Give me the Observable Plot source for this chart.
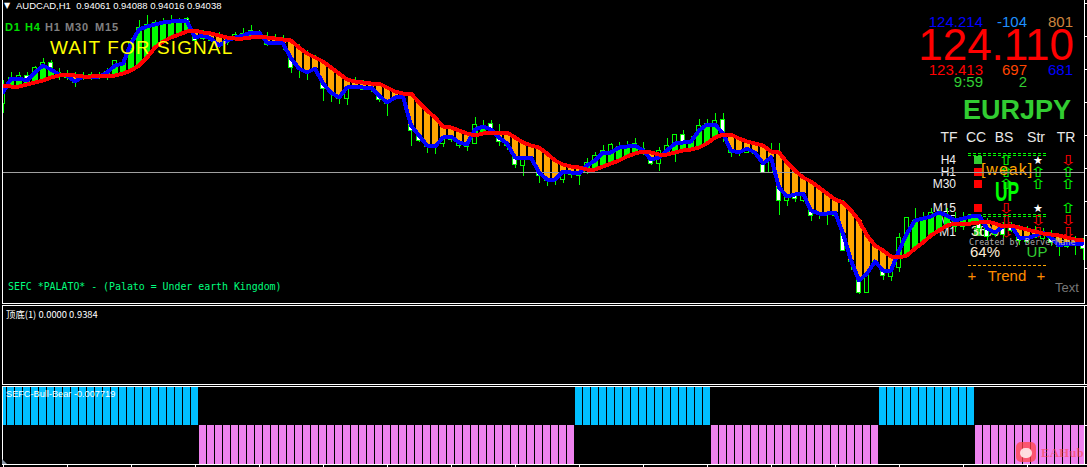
<!DOCTYPE html>
<html><head><meta charset="utf-8">
<script src="https://cdn.jsdelivr.net/npm/d3@7"></script>
<script src="https://cdn.jsdelivr.net/npm/@observablehq/plot@0.6"></script>
<style>
html,body{margin:0;padding:0;background:#000;overflow:hidden}
#chart{position:relative;width:1087px;height:467px;background:#000;overflow:hidden}
#chart>div.p{position:absolute;left:0;width:1087px;z-index:2}
#chart svg{display:block;background:transparent}
.t{position:absolute;white-space:pre;line-height:1;font-family:"Liberation Sans",Arial,sans-serif;z-index:3}
.u{z-index:1}
.c{transform:translate(-50%,-50%)}
.l{transform:translateY(-50%)}
.r{transform:translate(-100%,-50%)}
</style></head><body><div id="chart"></div>
<script>
// prices in 1/10000 units
const red=[9491,9490,9490,9492,9494,9496,9499,9501,9502,9501,9500,9500,9501,9500,9501,9503,9506,9511,9519,9529,9535,9539,9542,9545,9546,9544,9543,9541,9539,9538,9538,9539,9540,9539,9538,9537,9536,9529,9523,9519,9515,9509,9503,9497,9495,9494,9493,9493,9489,9485,9483,9483,9474,9466,9459,9450,9449,9446,9443,9441,9443,9444,9444,9444,9439,9434,9431,9429,9423,9416,9412,9410,9409,9407,9407,9410,9413,9416,9420,9423,9425,9424,9422,9422,9424,9426,9427,9429,9433,9439,9442,9442,9438,9435,9433,9431,9425,9424,9414,9406,9399,9395,9389,9383,9377,9374,9366,9356,9341,9331,9326,9320,9319,9321,9328,9334,9341,9346,9351,9353,9353,9353,9354,9355,9353,9350,9351,9349,9347,9345,9343,9342,9341,9339,9337,9336];
const blue=[9484,9498,9498,9496,9504,9511,9507,9502,9501,9495,9500,9500,9500,9504,9511,9513,9533,9547,9550,9552,9554,9555,9556,9555,9539,9541,9538,9531,9536,9539,9541,9544,9544,9534,9534,9533,9518,9508,9504,9508,9493,9484,9479,9489,9490,9489,9489,9481,9474,9479,9480,9451,9441,9431,9430,9439,9440,9434,9432,9447,9450,9447,9439,9433,9419,9419,9419,9404,9397,9397,9405,9404,9403,9411,9416,9424,9424,9429,9430,9431,9426,9417,9419,9426,9433,9434,9435,9446,9452,9452,9443,9426,9424,9428,9424,9413,9419,9389,9380,9382,9383,9366,9363,9363,9364,9343,9316,9296,9303,9315,9306,9306,9326,9343,9356,9358,9360,9364,9361,9356,9358,9360,9361,9348,9344,9350,9351,9339,9338,9341,9344,9339,9331,9333,9333,9333];
const high=[9496,9504,9504,9504,9510,9518,9516,9508,9506,9504,9504,9504,9504,9508,9516,9519,9538,9556,9561,9556,9558,9561,9558,9559,9546,9546,9543,9544,9540,9544,9548,9551,9546,9544,9542,9541,9536,9532,9526,9521,9514,9508,9504,9498,9499,9496,9494,9492,9488,9486,9484,9481,9474,9466,9459,9451,9448,9446,9443,9459,9456,9456,9452,9442,9439,9434,9430,9428,9422,9416,9411,9408,9408,9418,9424,9431,9433,9434,9435,9438,9434,9424,9429,9438,9442,9446,9440,9457,9457,9463,9463,9440,9436,9433,9434,9428,9433,9433,9414,9406,9401,9386,9384,9381,9376,9376,9366,9358,9341,9331,9326,9321,9343,9359,9368,9364,9368,9366,9368,9364,9364,9362,9362,9358,9354,9354,9354,9351,9350,9350,9348,9346,9340,9338,9340,9338];
const low=[9463,9491,9488,9490,9496,9496,9501,9496,9496,9489,9496,9496,9497,9496,9499,9501,9506,9526,9536,9538,9538,9543,9546,9548,9534,9536,9534,9528,9531,9536,9536,9538,9538,9530,9532,9526,9503,9498,9496,9504,9475,9474,9472,9471,9487,9486,9484,9474,9460,9476,9476,9430,9434,9423,9422,9429,9434,9428,9425,9433,9442,9441,9430,9426,9408,9400,9416,9393,9390,9391,9393,9398,9391,9402,9406,9411,9416,9421,9424,9426,9421,9411,9405,9421,9414,9426,9428,9431,9441,9443,9434,9419,9420,9423,9421,9403,9404,9361,9370,9374,9374,9355,9357,9351,9359,9326,9306,9282,9283,9311,9296,9295,9304,9326,9338,9341,9344,9348,9348,9344,9346,9351,9344,9336,9339,9338,9344,9331,9333,9338,9336,9330,9320,9328,9321,9316];
const open=[9473,9494,9496,9501,9496,9504,9514,9504,9499,9500,9498,9499,9502,9500,9501,9506,9511,9528,9538,9541,9540,9544,9547,9558,9543,9543,9541,9539,9534,9538,9538,9541,9542,9540,9538,9538,9534,9528,9521,9518,9512,9506,9502,9478,9488,9491,9492,9490,9486,9484,9482,9479,9472,9464,9456,9433,9446,9431,9441,9433,9444,9453,9439,9440,9436,9411,9428,9426,9420,9414,9397,9402,9406,9404,9409,9413,9418,9422,9424,9426,9428,9419,9413,9421,9426,9442,9428,9431,9443,9443,9457,9424,9434,9424,9430,9412,9404,9389,9376,9404,9376,9367,9381,9379,9364,9373,9361,9296,9284,9328,9305,9300,9309,9329,9338,9341,9344,9348,9351,9358,9350,9354,9360,9348,9350,9348,9352,9346,9344,9339,9338,9342,9338,9336,9331,9336];
const close=[9488,9499,9501,9498,9509,9514,9509,9500,9503,9494,9501,9502,9499,9505,9516,9514,9534,9549,9552,9554,9553,9556,9556,9554,9536,9538,9536,9531,9538,9542,9543,9546,9545,9532,9533,9532,9509,9508,9504,9508,9488,9484,9478,9489,9496,9487,9488,9477,9473,9478,9479,9446,9436,9430,9429,9439,9437,9441,9430,9452,9448,9446,9435,9431,9412,9418,9417,9401,9396,9396,9403,9406,9401,9414,9421,9426,9432,9430,9431,9433,9426,9413,9426,9431,9442,9434,9434,9451,9453,9456,9443,9440,9423,9433,9423,9404,9424,9376,9381,9378,9381,9361,9362,9362,9361,9326,9315,9284,9303,9314,9301,9308,9339,9359,9356,9358,9364,9364,9361,9350,9358,9360,9348,9340,9342,9342,9346,9336,9335,9344,9345,9334,9330,9330,9338,9328];
const priceTicks=[9573,9540,9507,9474,9441,9408,9375,9341,9308];
const bidPrice=9404;
const bullBearRuns=[[1,25],[-1,47],[1,17],[-1,21],[1,12],[-1,14]];
const bullBear=bullBearRuns.flatMap(([v,n])=>d3.range(n).map(()=>v));
const bars=d3.range(high.length);
const barTicks=d3.range(0,136,8);

const P=v=>v/10000;
const xs={type:"linear",domain:[-0.0625,135.1875],range:[2,1084],axis:null};
const crisp={shapeRendering:"crispEdges"};
const common={width:1087,marginLeft:2,marginRight:3,marginTop:0,style:{background:"transparent",overflow:"visible"}};
const up=bars.filter(i=>blue[i]>=red[i]), dn=bars.filter(i=>blue[i]<red[i]);

const main=Plot.plot({...common,height:304,marginBottom:1,x:xs,
 y:{domain:[P(9273),P(9576)],range:[303,0],axis:null},
 marks:[
  Plot.ruleX(bars,{x:i=>i,y1:i=>P(low[i]),y2:i=>P(high[i]),stroke:"#00ff00",strokeWidth:1,clip:true,...crisp}),
  Plot.rect(bars,{x1:i=>i-0.29,x2:i=>i+0.29,y1:i=>P(open[i]),y2:i=>P(close[i]),fill:i=>close[i]>=open[i]?"#000":"#fff",stroke:"#00ff00",strokeWidth:1,clip:true,...crisp}),
  Plot.ruleX(up,{x:i=>i,y1:i=>P(blue[i]),y2:i=>P(red[i]),stroke:"#00ff00",strokeWidth:5.5,clip:true,...crisp}),
  Plot.ruleX(dn,{x:i=>i,y1:i=>P(blue[i]),y2:i=>P(red[i]),stroke:"#ffa500",strokeWidth:5.5,clip:true,...crisp}),
  Plot.ruleY([P(bidPrice)],{stroke:"#a0a0a0",strokeWidth:1,...crisp}),
  Plot.line(bars,{x:i=>i,y:i=>P(blue[i]),stroke:"#0000ff",strokeWidth:4,clip:true,...crisp}),
  Plot.line(bars,{x:i=>i,y:i=>P(red[i]),stroke:"#ff0000",strokeWidth:4,clip:true,...crisp}),
  Plot.frame({anchor:"left",stroke:"#fff",...crisp}),
  Plot.frame({anchor:"right",stroke:"#fff",...crisp}),
  Plot.frame({anchor:"bottom",stroke:"#fff",...crisp}),
  Plot.axisY(priceTicks.map(P),{anchor:"right",tickSize:3,tickPadding:0,tickFormat:()=>"",label:null,stroke:"#fff",...crisp})
 ]});
const mid=Plot.plot({...common,height:80,marginBottom:1,x:xs,
 y:{domain:[0,1],axis:null},
 marks:[
  Plot.frame({stroke:"#fff",...crisp}),
  Plot.axisY([0,1],{anchor:"right",tickSize:3,tickFormat:()=>"",label:null,stroke:"#fff",...crisp})
 ]});
const bot=Plot.plot({...common,height:81,marginBottom:3,x:xs,
 y:{domain:[-1,1],axis:null},
 marks:[
  Plot.rect(bars,{x1:i=>i-0.4375,x2:i=>i+0.4375,y1:0,y2:i=>bullBear[i],fill:i=>bullBear[i]>0?"#00bfff":"#ee82ee",clip:true,...crisp}),
  Plot.frame({stroke:"#fff",...crisp}),
  Plot.axisX(barTicks,{anchor:"bottom",tickSize:3,tickFormat:()=>"",label:null,stroke:"#fff",...crisp}),
  Plot.axisY([-1,0,1],{anchor:"right",tickSize:3,tickFormat:()=>"",label:null,stroke:"#fff",...crisp})
 ]});
const chart=document.getElementById("chart");
[[main,0],[mid,305],[bot,386]].forEach(([el,top])=>{const d=document.createElement("div");d.className="p";d.style.top=top+"px";d.appendChild(el);chart.appendChild(d);});

// overlay labels; o.u puts a label underneath the chart marks
function T(txt,x,y,o={}){const e=document.createElement("div");e.className="t "+(o.a||"l")+(o.u?" u":"");e.textContent=txt;
 e.style.left=x+"px";e.style.top=y+"px";e.style.fontSize=(o.s||11)+"px";e.style.color=o.c||"#fff";
 if(o.b)e.style.fontWeight="bold";if(o.f)e.style.fontFamily=o.f;if(o.ls)e.style.letterSpacing=o.ls+"px";
 if(o.sx)e.style.transform=`translate(-50%,-50%) scaleX(${o.sx})`;
 chart.appendChild(e);return e;}
const mono='"DejaVu Sans Mono",monospace', dj='"DejaVu Sans",sans-serif';
T("▼",4,6,{s:8,f:dj});
T("AUDCAD,H1  0.94061 0.94088 0.94016 0.94038",16,6,{s:9.5});
[["D1",5,"#00e000"],["H4",25,"#00e000"],["H1",45,"#808080"],["M30",65,"#808080"],["M15",95,"#808080"]].forEach(([s,x,c])=>T(s,x,27,{s:11,b:1,c,ls:.8}));
T("WAIT FOR SIGNAL",50,47,{s:19,c:"#ffff00",ls:1.1});
T("SEFC *PALATO* - (Palato = Under earth Kingdom)",8,287,{s:9.9,c:"#00ff7f",f:mono});
T("顶底(1) 0.0000 0.9384",6,315,{s:9.4,f:'"Noto Sans CJK SC","Liberation Sans",sans-serif'});
T("SEFC-Bull-Bear -0.007719",6,395,{s:9.2});

T("124.214",983,21,{a:"r",s:15,c:"#0000ff"});T("-104",1027,21,{a:"r",s:15,c:"#1e90ff"});T("801",1073,21,{a:"r",s:15,c:"#cd853f"});
T("124.110",1074,45,{a:"r",s:44,c:"#ff0000"});
T("123.413",983,69,{a:"r",s:15,c:"#ff0000"});T("697",1027,69,{a:"r",s:15,c:"#ff4500"});T("681",1073,69,{a:"r",s:15,c:"#0000ff"});
T("9:59",983,81,{a:"r",s:15,c:"#32cd32"});T("2",1027,81,{a:"r",s:15,c:"#32cd32"});
T("EURJPY",1017,110,{a:"c",s:27,b:1,c:"#32cd32"});
[["TF",949],["CC",976],["BS",1004],["Str",1036],["TR",1066]].forEach(([s,x])=>T(s,x,137,{a:"c",s:14,c:"#e8e8e8"}));

const rows=[["H4",160,"#32cd32","u","s","d"],["H1",172,"#ff0000","u","u","u"],["M30",184,"#ff0000","u","u","u"],["M15",208,"#ff0000","d","s","u"],["M5",220,"#32cd32","d","d","d"],["M1",232,"#32cd32","d","d","d"]];
const glyph=(k,x,y)=>k=="s"?T("★",x,y,{a:"c",s:11,f:dj,u:1}):T(k=="u"?"⇧":"⇩",x,y,{a:"c",s:14,f:dj,u:1,sx:1.4,c:k=="u"?"#00ff00":"#ff0000"});
rows.forEach(([tf,y,sq,bs,str,tr])=>{T(tf,956,y,{a:"r",s:12,c:"#f0f0f0",u:1});
 const q=document.createElement("div");q.style.cssText=`position:absolute;left:974px;top:${y-4}px;width:8px;height:8px;background:${sq};z-index:1`;chart.appendChild(q);
 glyph(bs,1006,y);glyph(str,1038,y);glyph(tr,1068,y);});
const dash=(y,c)=>{const e=document.createElement("div");e.style.cssText=`position:absolute;left:968px;width:78px;top:${y}px;border-top:1px dashed ${c};z-index:1`;chart.appendChild(e);};
dash(153,"#00ff00");dash(155,"#00ff00");dash(214,"#00ff00");dash(216,"#00ff00");dash(265,"#ffa500");
T("[weak]",1007,170,{a:"c",s:16,c:"#ffa500",ls:1,u:1});
T("UP",1007,192,{a:"c",s:28,b:1,c:"#00ff00",sx:.62,u:1});
T("36%",971,231,{s:14,c:"#faebd7",u:1});
T("Created by BerverMane",969,242,{s:8.3,c:"#b0b0b0",f:mono,ls:.08});
T("64%",970,251,{s:15,c:"#faebd7"});
T("UP",1037,251,{a:"c",s:15,c:"#32cd32"});
T("+",972,275,{a:"c",s:15,c:"#ff8c00"});T("Trend",1007,275,{a:"c",s:15,c:"#ff8c00"});T("+",1041,275,{a:"c",s:15,c:"#ff8c00"});
T("Text",1067,287,{a:"c",s:13,c:"#777"});

// watermark
const wm=document.createElement("div");wm.style.cssText="position:absolute;left:1016px;top:442px;width:20px;height:20px;border-radius:5px;background:rgba(255,70,70,.75);z-index:3";chart.appendChild(wm);
const face=document.createElement("div");face.style.cssText="position:absolute;left:1020px;top:448px;width:12px;height:10px;border-radius:6px;background:rgba(255,235,235,.9);z-index:3";chart.appendChild(face);
T("EAHub",1041,452,{s:13,b:1,c:"rgba(255,70,70,.6)",f:'"Liberation Serif",serif'});
const tri=document.createElement("div");tri.style.cssText="position:absolute;left:2px;top:459px;width:0;height:0;border-left:5px solid #8a97a5;border-top:5px solid transparent;z-index:3";chart.appendChild(tri);
</script></body></html>
